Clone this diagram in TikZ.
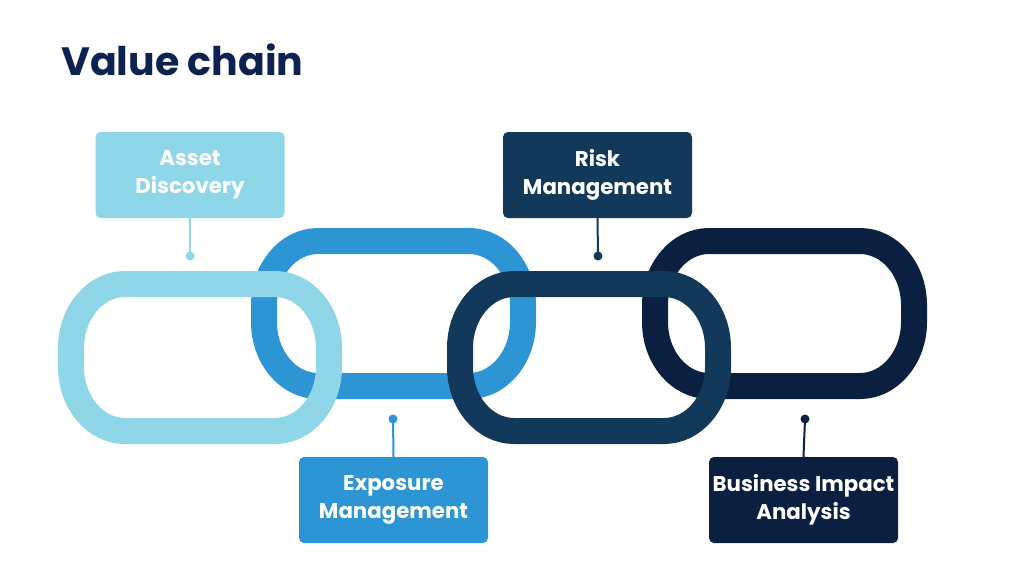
\documentclass[tikz,border=0pt]{standalone}
\usepackage{fontspec}
\setmainfont{Poppins}
\newcommand\chainlink[5]{% color, x1, y1, x2, y2 (centre line)
  \draw[link, #1] ({#2+54},#3) -- ({#4-54},#3)
    arc[start angle=-90, end angle=0, x radius=54, y radius=64]
    -- (#4,{#5-64})
    arc[start angle=0, end angle=90, x radius=54, y radius=64]
    -- ({#2+54},#5)
    arc[start angle=90, end angle=180, x radius=54, y radius=64]
    -- (#2,{#3+64})
    arc[start angle=180, end angle=270, x radius=54, y radius=64]
    -- cycle;}
\begin{document}
\begin{tikzpicture}[x=1pt,y=-1pt,
  link/.style={line width=26pt, line join=round},
  lbox/.style={rounded corners=5pt, minimum width=189pt, minimum height=86pt, inner sep=0pt, align=center, text=white, font=\bfseries\fontsize{21.3}{28}\selectfont},
  stem/.style={line width=2pt},
  knob/.style={circle, inner sep=0pt, minimum size=9pt}]
\definecolor{cLight}{HTML}{8FD6E8}
\definecolor{cBlue}{HTML}{2E95D5}
\definecolor{cTeal}{HTML}{12395A}
\definecolor{cNavy}{HTML}{0B1F40}
\definecolor{cTitle}{HTML}{0E2252}
\useasboundingbox (0,0) rectangle (1024,576);
\fill[white] (0,0) rectangle (1024,576);
\node[anchor=base west, inner sep=0pt, text=cTitle, font=\bfseries\fontsize{39.5}{46}\selectfont] (title) at (61,75) {Value chain};
% links (under ones first)
\chainlink{cBlue}{264}{241}{523}{386}
\chainlink{cNavy}{655}{241}{914}{386}
\chainlink{cLight}{71}{284}{329}{431}
\chainlink{cTeal}{460}{284}{718}{431}
% label boxes
\node[lbox, fill=cLight] (b1) at (190,175) {Asset\\Discovery};
\node[lbox, fill=cBlue] (b2) at (393.5,500) {Exposure\\Management};
\node[lbox, fill=cTeal] (b3) at (597.5,175) {Risk\\Management};
\node[lbox, fill=cNavy] (b4) at (803.5,500) {Business Impact\\Analysis};
% knobs
\node[knob, fill=cLight] (k1) at (190,256) {};
\node[knob, fill=cBlue] (k2) at (393,419) {};
\node[knob, fill=cTeal] (k3) at (598,256) {};
\node[knob, fill=cNavy] (k4) at (805,419) {};
\draw[stem, cLight] (b1.south) -- (k1.center);
\draw[stem, cBlue] (b2.north) -- (k2.center);
\draw[stem, cTeal] (b3.south) -- (k3.center);
\draw[stem, cNavy] (b4.north) -- (k4.center);
\end{tikzpicture}
\end{document}
